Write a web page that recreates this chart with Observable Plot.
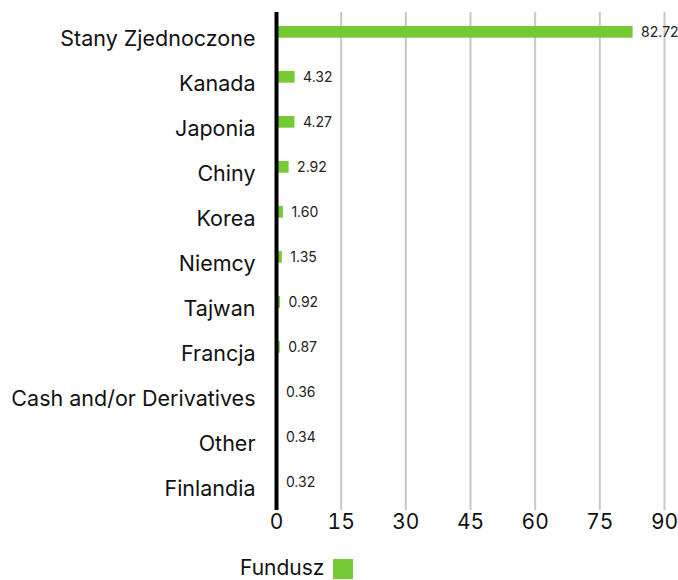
<!DOCTYPE html>
<html>
<head>
<meta charset="utf-8">
<script src="https://cdn.jsdelivr.net/npm/d3@7"></script>
<script src="https://cdn.jsdelivr.net/npm/@observablehq/plot@0.6"></script>
<style>
  body { margin: 0; background: #fff; font-family: Inter, "Open Sans", sans-serif; }
  #chart svg { display: block; overflow: visible; }
  .legend { position: relative; height: 35px; font-family: Inter, "Open Sans", sans-serif; font-size: 21px; color: #111; }
  .legend .lbl { position: absolute; left: 240px; top: 11px; line-height: 24px; }
  .legend .sw { position: absolute; left: 333px; top: 14px; width: 20px; height: 20px; background: #75c935; }
</style>
</head>
<body>
<div id="chart"></div>
<div class="legend"><span class="lbl">Fundusz</span><span class="sw"></span></div>
<script>
const categories = ["Stany Zjednoczone", "Kanada", "Japonia", "Chiny", "Korea", "Niemcy", "Tajwan", "Francja", "Cash and/or Derivatives", "Other", "Finlandia"];
const values = [82.72, 4.32, 4.27, 2.92, 1.60, 1.35, 0.92, 0.87, 0.36, 0.34, 0.32];
const xTicks = [0, 15, 30, 45, 60, 75, 90];
const seriesName = "Fundusz";

const data = categories.map((c, i) => ({ category: c, value: values[i] }));

const chart = Plot.plot({
  width: 678,
  height: 545,
  marginLeft: 276,
  marginRight: 14,
  marginTop: 12,
  marginBottom: 35,
  style: { fontFamily: "Inter, 'Open Sans', sans-serif", color: "#111", background: "#fff" },
  x: { domain: [0, 90] },
  y: { domain: categories, padding: 0 },
  marks: [
    Plot.gridX(xTicks.filter(d => d > 0), { stroke: "#c8c8c8", strokeOpacity: 1, strokeWidth: 2 }),
    Plot.barX(data, { x: "value", y: "category", fill: "#75c935", insetTop: 12, insetBottom: 21.3 }),
    Plot.ruleX([0], { stroke: "#000", strokeWidth: 4 }),
    Plot.text(data, { x: "value", y: "category", text: d => d.value.toFixed(2), dx: 8, dy: -4.6, textAnchor: "start", fontSize: 14, fill: "#222" }),
    Plot.axisX({ ticks: xTicks, tickSize: 0, tickPadding: 4, fontSize: 21, label: null, fill: "#111" }),
    Plot.axisY({ tickSize: 0, tickPadding: 21, fontSize: 21.5, label: null, dy: 2, fill: "#111" })
  ]
});
document.getElementById("chart").append(chart);
</script>
</body>
</html>
